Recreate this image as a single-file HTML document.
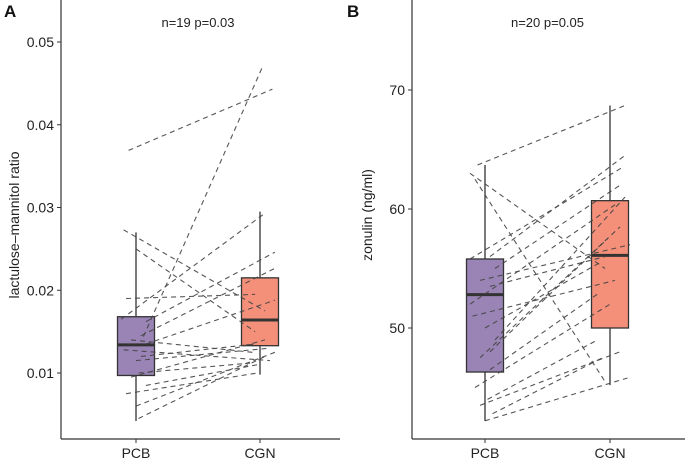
<!DOCTYPE html>
<html><head><meta charset="utf-8"><style>
body{margin:0;background:#fff;}
svg{display:block;font-family:"Liberation Sans",sans-serif;}
</style></head><body>
<svg id="chart" width="685" height="462" viewBox="0 0 685 462"></svg>
<script>
const categories=["PCB","CGN"];
const aPCB=[0.0369,0.0144,0.0273,0.0250,0.0190,0.0165,0.0162,0.0145,0.0140,0.0135,0.0128,0.0120,0.0115,0.0100,0.0095,0.0085,0.0075,0.0060,0.0045];
const aCGN=[0.0443,0.0470,0.0175,0.0150,0.0195,0.0293,0.0246,0.0228,0.0125,0.0188,0.0115,0.0135,0.0130,0.0112,0.0140,0.0110,0.0100,0.0125,0.0120];
const aJit=[[-0.15,0.25],[0.15,0.05],[-0.25,0.1],[0,-0.1],[-0.2,-0.1],[-0.3,0.1],[0.2,0.3],[0.1,0.35],[-0.1,-0.15],[0.2,0.3],[-0.25,0.2],[0.1,-0.1],[0,0.2],[0.05,-0.2],[-0.1,0.1],[0.2,-0.05],[-0.2,-0.05],[0,0.3],[0.05,0.1]];
const aBox=[{q1:0.0097,med:0.0134,q3:0.0168,lo:0.0042,hi:0.027},{q1:0.0133,med:0.0164,q3:0.0215,lo:0.0098,hi:0.0295}];
const aTicks=[0.01,0.02,0.03,0.04,0.05];
const bPCB=[63.7,63.0,62.5,56.0,55.8,55.0,54.0,53.5,52.0,50.0,49.0,47.5,46.5,45.0,44.0,43.5,42.8,42.2,48.0,51.0];
const bCGN=[68.7,55.0,45.5,64.5,63.5,62.0,57.0,56.0,60.5,55.5,61.0,58.5,53.0,52.0,49.0,48.0,47.5,45.8,57.5,54.0];
const bJit=[[-0.15,0.3],[-0.3,-0.1],[-0.2,-0.1],[0.1,0.3],[-0.3,0.25],[0.2,0.2],[-0.1,0.4],[0.1,-0.1],[-0.3,0.15],[0,-0.2],[0.2,0.3],[-0.1,0.2],[0.1,-0.2],[-0.2,0],[0.05,-0.25],[-0.1,0.2],[0.15,-0.15],[0,0.35],[0.1,-0.05],[-0.25,0.1]];
const bBox=[{q1:46.3,med:52.8,q3:55.8,lo:42.2,hi:63.7},{q1:50.0,med:56.1,q3:60.7,lo:45.2,hi:68.7}];
const bTicks=[50,60,70];
const colors=["#9a84b6","#f4907a"];
const svg=document.getElementById('chart');
const NS="http://www.w3.org/2000/svg";
function mk(tag,attrs,name,parent){const e=document.createElementNS(NS,tag);for(const k in attrs)e.setAttribute(k,attrs[k]);


(parent||svg).appendChild(e);return e;}
function panel(p){
 const g=mk('g',{},p.name);
 const y=v=>p.y0+(v-p.v0)*p.k;
 const x=i=>p.xc[0]+i*(p.xc[1]-p.xc[0]);
 const step=(p.xc[1]-p.xc[0]);
 mk('line',{x1:p.ax,y1:0,x2:p.ax,y2:439,stroke:"#333","stroke-width":1.2},'y-axis-line',g);
 mk('line',{x1:p.ax,y1:439,x2:p.ax2,y2:439,stroke:"#333","stroke-width":1.2},'x-axis-line',g);
 p.ticks.forEach(t=>{mk('line',{x1:p.ax-4,x2:p.ax,y1:y(t),y2:y(t),stroke:"#333"},'y-tick',g);
  const tx=mk('text',{x:p.ax-7,y:y(t)+5,"text-anchor":"end","font-size":14,fill:"#222"},'y-tick-label',g);tx.textContent=p.fmt(t);});
 categories.forEach((c,i)=>{mk('line',{x1:x(i),x2:x(i),y1:439,y2:443,stroke:"#333"},'x-tick',g);
  const tx=mk('text',{x:x(i),y:458,"text-anchor":"middle","font-size":14,fill:"#222"},'x-tick-label-'+c.toLowerCase(),g);tx.textContent=c;});
 p.box.forEach((b,i)=>{const cx=x(i),w=37;
  mk('line',{x1:cx,x2:cx,y1:y(b.lo),y2:y(b.hi),stroke:"#333","stroke-width":1.3},'whisker-'+categories[i].toLowerCase(),g);
  mk('rect',{x:cx-w/2,y:y(b.q3),width:w,height:y(b.q1)-y(b.q3),fill:colors[i],stroke:"#333","stroke-width":1.3},'box-'+categories[i].toLowerCase(),g);
  mk('line',{x1:cx-w/2,x2:cx+w/2,y1:y(b.med),y2:y(b.med),stroke:"#333","stroke-width":3},'median-'+categories[i].toLowerCase(),g);});
 p.a.forEach((v,i)=>{mk('line',{x1:x(0)+p.jit[i][0]*step*0.4,y1:y(v),x2:x(1)+p.jit[i][1]*step*0.4,y2:y(p.b[i]),stroke:"#444","stroke-width":1.1,"stroke-dasharray":"5,4",opacity:0.9},'paired-line',g);});
 const t=mk('text',{x:(p.xc[0]+p.xc[1])/2,y:27,"text-anchor":"middle","font-size":13,fill:"#222"},'annotation',g);t.textContent=p.ann;
 const yl=mk('text',{x:0,y:0,"text-anchor":"middle","font-size":14,fill:"#222",transform:`translate(${p.ylx},${p.yly}) rotate(-90)`},'y-axis-title',g);yl.textContent=p.ytitle;
 const L=mk('text',{x:p.lx,y:17,"font-size":17,"font-weight":"bold",fill:"#111"},'panel-label',g);L.textContent=p.label;
}
panel({name:'panel-a',ax:61,ax2:340,xc:[136,260],y0:373,v0:0.01,k:-8275,ticks:aTicks,fmt:t=>t.toFixed(2),box:aBox,a:aPCB,b:aCGN,jit:aJit,ann:"n=19 p=0.03",ytitle:"lactulose\u2013mannitol ratio",ylx:19,yly:225,lx:4,label:"A"});
panel({name:'panel-b',ax:412,ax2:685,xc:[485,610],y0:328,v0:50,k:-11.9,ticks:bTicks,fmt:t=>String(t),box:bBox,a:bPCB,b:bCGN,jit:bJit,ann:"n=20 p=0.05",ytitle:"zonulin (ng/ml)",ylx:372,yly:215,lx:347,label:"B"});
</script>
</body></html>
